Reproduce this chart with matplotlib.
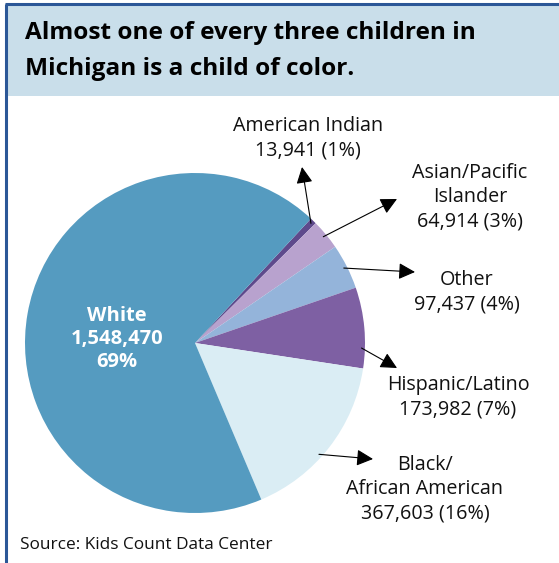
import numpy as np
import matplotlib.pyplot as plt
from matplotlib.patches import Rectangle

# ---- data ----
groups = ["American Indian", "Asian/Pacific\nIslander", "Other",
          "Hispanic/Latino", "Black/\nAfrican American", "White"]
counts = [13941, 64914, 97437, 173982, 367603, 1548470]
pct_labels = ["1%", "3%", "4%", "7%", "16%", "69%"]
colors = ["#5E4A8C", "#B8A2CE", "#94B4DA", "#7E60A3", "#DAEDF4", "#559BC0"]

# callout layout (pixels, top-left origin) and where on each wedge the arrow starts
label_xy = [(308, 138), (470, 197), (467, 292), (458, 397), (425, 489)]
arrow_tip = [(302, 167), (397, 199), (415, 272), (397, 368), (373, 459)]
anchor_frac = [0.5, 0.5, 0.5, 0.75, 0.57]

W, H = 559, 563
fig = plt.figure(figsize=(W / 100, H / 100), dpi=100)
ax = fig.add_axes([0, 0, 1, 1])

font = "Open Sans"

# pie
cx, cy, r = 195, H - 343, 170
wedges, _ = ax.pie(counts, colors=colors, startangle=47, counterclock=False,
                   center=(cx, cy), radius=r, wedgeprops=dict(linewidth=0),
                   frame=True)
ax.set_xlim(0, W)
ax.set_ylim(0, H)
ax.set_aspect("equal")
ax.axis("off")

# title band and frame
ax.add_patch(Rectangle((6, H - 96), W - 6, 92, facecolor="#C9DEEA", edgecolor="none"))
ax.plot([6, 6], [0, H - 4], color="#2B5797", lw=2.2, solid_capstyle="butt")
ax.plot([5, W], [H - 4, H - 4], color="#2B5797", lw=2.2, solid_capstyle="butt")
ax.text(25, H - 33, "Almost one of every three children in", fontsize=17.6,
        fontweight="bold", family=font, va="center", ha="left")
ax.text(25, H - 69, "Michigan is a child of color.", fontsize=17.6,
        fontweight="bold", family=font, va="center", ha="left")

# callouts for the small groups
for i in range(5):
    w = wedges[i]
    ang = np.deg2rad(w.theta2 - anchor_frac[i] * (w.theta2 - w.theta1))
    sx, sy = cx + 0.98 * r * np.cos(ang), cy + 0.98 * r * np.sin(ang)
    tx, ty = arrow_tip[i]
    ax.annotate("", xy=(tx, H - ty), xytext=(sx, sy),
                arrowprops=dict(arrowstyle="-|>,head_length=0.4,head_width=0.2",
                                color="black", lw=0.8, mutation_scale=25,
                                shrinkA=0, shrinkB=0))
    lx, ly = label_xy[i]
    ax.text(lx, H - ly, f"{groups[i]}\n{counts[i]:,} ({pct_labels[i]})",
            fontsize=14.2, family=font, ha="center", va="center",
            linespacing=1.3, color="#111111")

# White label inside the pie
ax.text(117, H - 339, f"{groups[5]}\n{counts[5]:,}\n{pct_labels[5]}",
        fontsize=14.5, fontweight="bold", family=font, color="white",
        ha="center", va="center", linespacing=1.2)

ax.text(20, H - 545, "Source: Kids Count Data Center", fontsize=12.4,
        family=font, ha="left", va="center", color="#111111")

fig.savefig("out.png", dpi=100)
